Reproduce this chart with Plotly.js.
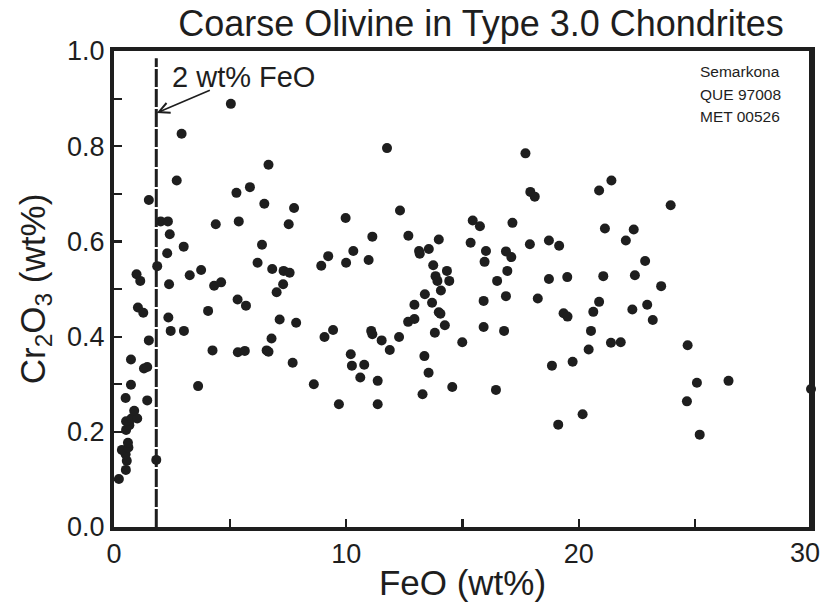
<!DOCTYPE html>
<html>
<head>
<meta charset="utf-8">
<script src="https://cdn.plot.ly/plotly-3.0.1.min.js"></script>
<style>
  html, body { margin: 0; padding: 0; background: #fff; overflow: hidden; width: 823px; height: 607px; }
  #chart { width: 823px; height: 607px; overflow: hidden; }
</style>
</head>
<body>
<div id="chart"></div>
<script>
// ---- Data ----
const feo = [
  0.21, 0.51, 0.55, 0.50, 0.34, 0.62, 0.60, 0.52, 0.66, 0.52,
  0.75, 1.00, 0.87, 0.50, 0.73, 1.43, 0.73, 1.29, 1.43, 1.50,
  1.82, 1.03, 1.26, 0.97, 1.13, 1.50, 1.86,
  5.03, 2.91, 2.70, 6.65, 5.27, 5.85, 6.47, 7.75, 5.37, 4.38,
  2.01, 2.32, 2.40, 2.29, 3.00, 2.37, 3.26, 3.75, 4.31, 4.61,
  6.37, 7.52, 6.18, 6.81, 7.30, 7.56, 7.28, 8.92, 9.22, 9.97, 9.99,
  2.34, 2.44, 3.01, 4.05, 4.24, 5.32, 5.68, 5.33, 5.63, 7.00,
  7.13, 7.84, 6.78, 6.57, 6.65, 7.69, 3.62, 8.60, 9.06, 9.43, 9.68,
  11.75, 17.71, 17.92, 18.11, 12.31, 11.12, 10.30, 10.96, 12.67, 13.13,
  13.16, 13.55, 13.98, 13.74, 14.33, 13.84, 13.92, 14.43, 15.44, 15.75,
  15.35, 16.01, 15.95, 17.15, 16.87, 17.10, 16.93, 16.49, 17.90, 18.72,
  19.16, 18.72, 19.51,
  14.07, 13.38, 12.93, 13.69, 13.98, 14.05, 12.66, 12.93, 14.24, 13.81,
  11.07, 11.12, 11.52, 12.27, 11.87, 10.19, 10.24, 10.77, 10.60, 11.35,
  11.35, 13.36, 13.54, 13.28, 14.56, 14.99, 15.91, 16.87, 15.91, 16.79,
  16.44, 18.24, 19.35, 19.52, 18.85, 19.74, 19.12, 20.17,
  21.41, 20.88, 23.96, 21.13, 22.37, 22.03, 22.86, 21.06, 22.42, 23.55,
  20.88, 20.63, 22.95, 22.31, 23.19, 20.53, 21.39, 21.81, 20.43, 24.69,
  25.09, 26.45, 24.66, 25.21, 30.0
];
const cr2o3 = [
  0.101, 0.120, 0.139, 0.153, 0.162, 0.167, 0.177, 0.204, 0.214, 0.222,
  0.228, 0.228, 0.244, 0.271, 0.299, 0.266, 0.352, 0.333, 0.336, 0.392,
  0.141, 0.461, 0.450, 0.531, 0.517, 0.687, 0.548,
  0.889, 0.826, 0.728, 0.761, 0.702, 0.714, 0.679, 0.670, 0.642, 0.636,
  0.642, 0.642, 0.615, 0.575, 0.589, 0.510, 0.529, 0.540, 0.507, 0.514,
  0.593, 0.636, 0.555, 0.542, 0.538, 0.534, 0.510, 0.549, 0.569, 0.649, 0.555,
  0.440, 0.412, 0.412, 0.454, 0.371, 0.478, 0.465, 0.367, 0.370, 0.493,
  0.436, 0.429, 0.396, 0.371, 0.368, 0.345, 0.296, 0.300, 0.399, 0.414, 0.258,
  0.796, 0.785, 0.704, 0.694, 0.665, 0.610, 0.580, 0.561, 0.612, 0.580,
  0.574, 0.584, 0.604, 0.550, 0.538, 0.527, 0.517, 0.517, 0.644, 0.632,
  0.597, 0.580, 0.557, 0.639, 0.579, 0.567, 0.538, 0.517, 0.594, 0.602,
  0.591, 0.521, 0.525,
  0.497, 0.489, 0.467, 0.471, 0.451, 0.448, 0.431, 0.437, 0.424, 0.408,
  0.412, 0.405, 0.392, 0.399, 0.372, 0.363, 0.339, 0.341, 0.314, 0.307,
  0.258, 0.359, 0.324, 0.279, 0.294, 0.388, 0.475, 0.485, 0.420, 0.412,
  0.288, 0.480, 0.449, 0.442, 0.339, 0.347, 0.215, 0.237,
  0.728, 0.707, 0.676, 0.627, 0.625, 0.602, 0.559, 0.527, 0.529, 0.506,
  0.473, 0.452, 0.467, 0.457, 0.435, 0.412, 0.387, 0.388, 0.373, 0.382,
  0.303, 0.307, 0.264, 0.194, 0.290
];
const thresholdFeO = 1.82;      // the "2 wt% FeO" divider as drawn
const thresholdTop = 0.985;
const arrowHead = [1.84, 0.870];
const arrowTail = [4.19, 0.919];
const thresholdLabel = '2 wt% FeO';
const sampleNames = ['Semarkona', 'QUE 97008', 'MET 00526'];
const xTickVals = [0, 10, 20, 30];
const yTickVals = [0, 0.2, 0.4, 0.6, 0.8, 1.0];
const chartTitle = 'Coarse Olivine in Type 3.0 Chondrites';
const xTitle = 'FeO (wt%)';
const yTitle = 'Cr<sub>2</sub>O<sub>3</sub> (wt%)';

// ---- Plot ----
const FONT = '"Liberation Sans", Arial, Helvetica, sans-serif';
const INK = '#1e1e1e';
const ML = 114, MR = 12, MT = 51, MB = 80;
const PW = 823 - ML - MR, PH = 607 - MT - MB;
const TICK_SIZE = 27;

const traces = [
  {
    x: [thresholdFeO, thresholdFeO],
    y: [0, thresholdTop],
    mode: 'lines',
    line: { color: INK, width: 3, dash: '18px,2px' },
    hoverinfo: 'skip',
    showlegend: false,
    cliponaxis: false
  },
  {
    x: feo,
    y: cr2o3,
    mode: 'markers',
    type: 'scatter',
    marker: { color: INK, size: 10 },
    showlegend: false,
    cliponaxis: false
  }
];

// the last x tick label sits at the right edge of the figure; it is drawn
// right-aligned so that it stays inside the picture, as in the reference
const lastX = xTickVals[xTickVals.length - 1];
const xTickText = xTickVals.map(v => (v === lastX ? '' : String(v)));

const annotations = [
  {
    x: arrowHead[0], y: arrowHead[1], xref: 'x', yref: 'y',
    ax: arrowTail[0], ay: arrowTail[1], axref: 'x', ayref: 'y',
    text: '', showarrow: true, arrowhead: 5, arrowsize: 1.3,
    arrowwidth: 1.6, arrowcolor: INK, standoff: 0
  },
  {
    x: (243.5 - ML) / PW, y: (MT + PH - 77) / PH,
    xref: 'paper', yref: 'paper', xanchor: 'center', yanchor: 'middle',
    text: thresholdLabel, showarrow: false,
    font: { family: FONT, size: 29, color: INK }
  },
  {
    x: lastX, xref: 'x', xanchor: 'right', xshift: 11,
    y: 0, yref: 'paper', yanchor: 'top', yshift: -9,
    text: String(lastX), showarrow: false,
    font: { family: FONT, size: TICK_SIZE, color: INK }
  }
];
sampleNames.forEach((name, i) => {
  annotations.push({
    x: (740 - ML) / PW, y: (MT + PH - (72 + 22.5 * i)) / PH,
    xref: 'paper', yref: 'paper', xanchor: 'center', yanchor: 'middle',
    text: name, showarrow: false,
    font: { family: FONT, size: 15.5, color: INK }
  });
});

const axisCommon = {
  showgrid: false, zeroline: false,
  showline: true, linewidth: 4, linecolor: INK, mirror: true,
  ticks: 'inside', tickwidth: 2.2, tickcolor: INK, ticklen: 8,
  ticklabeloverflow: 'allow',
  tickfont: { family: FONT, size: TICK_SIZE, color: INK }
};

const layout = {
  width: 823, height: 607,
  margin: { l: ML, r: MR, t: MT, b: MB },
  paper_bgcolor: '#fff', plot_bgcolor: '#fff',
  font: { family: FONT, color: INK },
  title: {
    text: chartTitle,
    font: { family: FONT, size: 36, color: INK },
    x: 481 / 823, xanchor: 'center', xref: 'container',
    y: 1 - 23 / 607, yanchor: 'middle', yref: 'container'
  },
  xaxis: Object.assign({}, axisCommon, {
    range: [0, 30],
    tickvals: xTickVals,
    ticktext: xTickText,
    minor: { dtick: 5, ticks: 'inside', ticklen: 8, tickwidth: 2.2, tickcolor: INK },
    title: { text: xTitle, font: { family: FONT, size: 35, color: INK }, standoff: 3 }
  }),
  yaxis: Object.assign({}, axisCommon, {
    range: [0, 1],
    tickvals: yTickVals,
    ticktext: yTickVals.map(v => v.toFixed(1)),
    minor: { dtick: 0.1, ticks: 'inside', ticklen: 8, tickwidth: 2.2, tickcolor: INK },
    title: { text: yTitle, font: { family: FONT, size: 35, color: INK }, standoff: 12 }
  }),
  shapes: [
    { type: 'line', xref: 'paper', yref: 'paper', x0: 1, x1: 1, y0: 0, y1: 1,
      line: { color: INK, width: 4 }, layer: 'above' }
  ],
  annotations: annotations,
  showlegend: false
};

Plotly.newPlot('chart', traces, layout, { displayModeBar: false, staticPlot: true });
</script>
</body>
</html>
